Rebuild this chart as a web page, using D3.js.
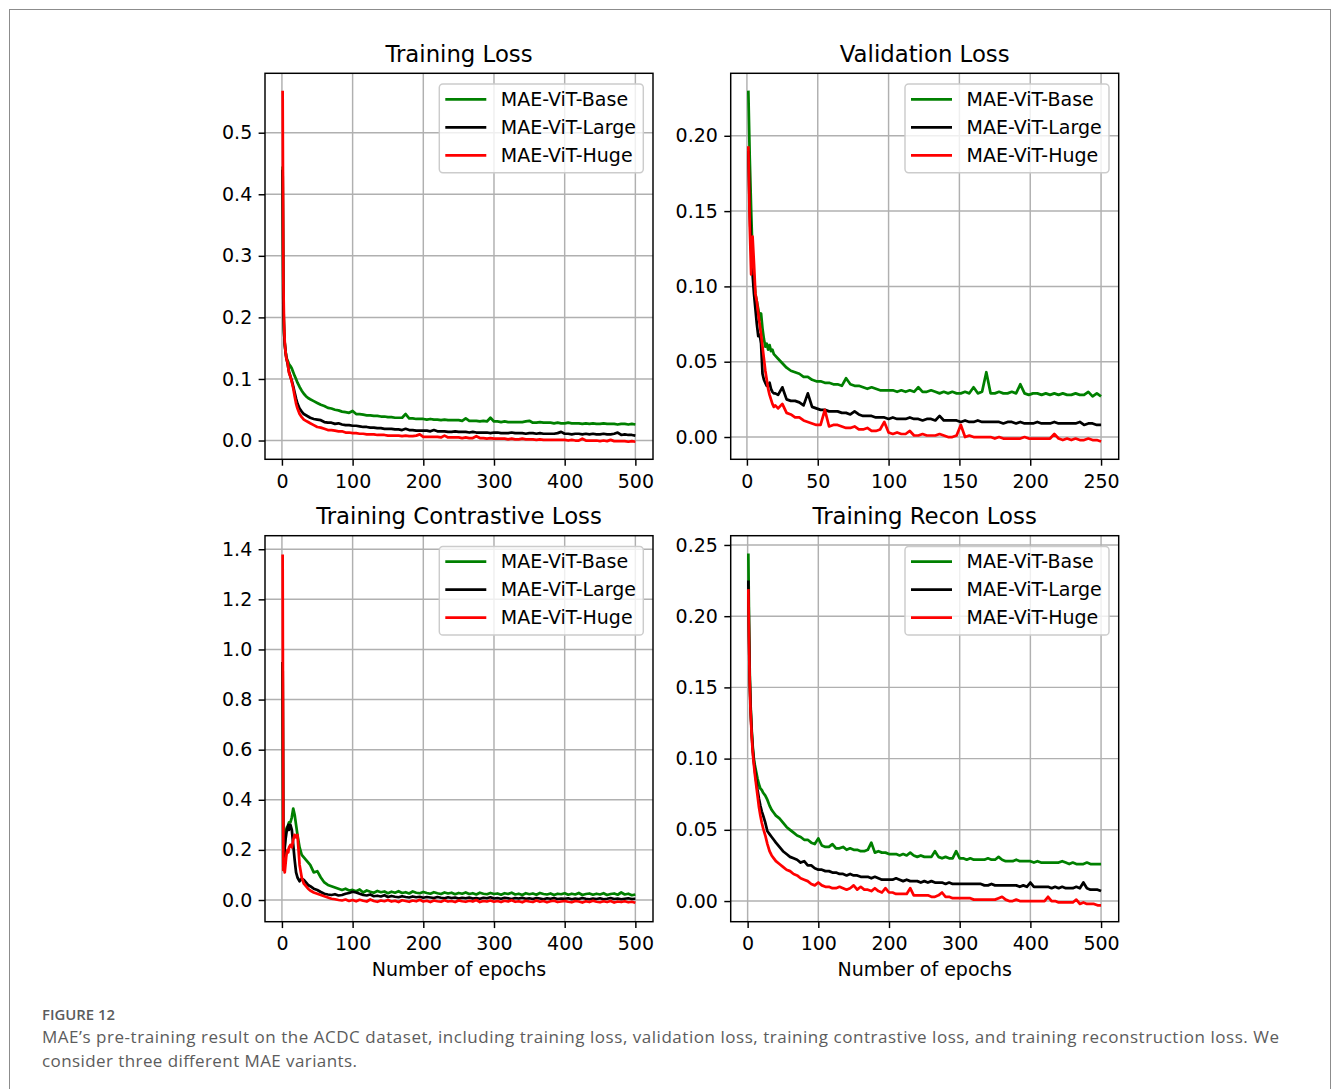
<!DOCTYPE html>
<html>
<head>
<meta charset="utf-8">
<title>MAE pre-training on ACDC</title>
<script src="https://cdn.jsdelivr.net/npm/d3@7"></script>
<style>
  body { margin: 0; background: #fff; }
  svg text { font-family: 'DejaVu Sans', sans-serif; }
  .caption { font-family: 'Open Sans', sans-serif; fill: #5c5c5c; }
</style>
</head>
<body>
<svg id="fig" width="1335" height="1089"></svg>
<script>

/*--- Data ---*/

// epochs: dense at the start, every 5 epochs after 45
var epochsTrain = [1,2,3,4,5,6,7,8,9,10,12,14,16,18,20,22,25,28,31,34,37,40].concat(d3.range(45, 501, 5));
// validation: every epoch up to 20, then every 3
var epochsVal = d3.range(1, 21).concat(d3.range(22, 251, 3));

var seriesNames = ["MAE-ViT-Base", "MAE-ViT-Large", "MAE-ViT-Huge"];

var trainBase = [.445,.230,.178,.158,.146,.138,.133,.130,.127,.124,.121,.117,.111,.105,.100,.094,.087,.081,.076,.072,.069,.067,
  .064,.061,.058,.056,.053,.052,.050,.049,.047,.046,.045,.048,
  .043,.043,.042,.041,.041,.040,.040,.039,.039,.038,.038,.037,.037,.037,.043,.036,.036,.035,.035,.035,
  .034,.035,.034,.034,.033,.034,.033,.033,.033,.033,.032,.036,.032,.032,.032,.031,.032,.031,.037,.031,
  .031,.030,.031,.030,.030,.030,.030,.030,.031,.032,.029,.029,.030,.029,.029,.029,.028,.029,.028,.028,
  .029,.028,.028,.028,.027,.028,.027,.028,.027,.027,.028,.027,.027,.027,.026,.027,.027,.026,.027,.026];
var trainLarge = [.440,.220,.175,.156,.145,.136,.130,.125,.118,.112,.104,.097,.088,.078,.068,.060,.052,.047,.043,.041,.039,.037,
  .035,.034,.033,.030,.029,.029,.027,.028,.026,.025,.025,.024,
  .024,.023,.022,.022,.021,.021,.020,.020,.019,.019,.019,.018,.018,.017,.019,.017,.017,.016,.016,.016,
  .016,.015,.017,.015,.015,.015,.014,.014,.015,.014,.014,.014,.013,.014,.013,.013,.013,.013,.012,.013,
  .013,.012,.012,.012,.013,.012,.012,.012,.011,.012,.012,.011,.012,.011,.011,.011,.011,.012,.014,.011,
  .011,.010,.011,.011,.010,.011,.010,.011,.010,.010,.011,.010,.010,.011,.013,.009,.010,.009,.009,.008];
var trainHuge = [.568,.260,.190,.160,.145,.135,.130,.127,.118,.110,.104,.095,.085,.072,.060,.052,.043,.038,.034,.032,.030,.028,
  .025,.022,.021,.019,.017,.017,.016,.015,.015,.013,.013,.012,
  .012,.011,.011,.010,.010,.010,.009,.009,.009,.008,.008,.008,.008,.007,.008,.007,.007,.008,.010,.006,
  .006,.006,.006,.006,.005,.008,.005,.005,.005,.005,.004,.005,.004,.004,.007,.004,.004,.003,.004,.003,
  .003,.003,.003,.002,.003,.002,.002,.003,.002,.002,.002,.001,.002,.001,.001,.001,.001,.001,.001,.001,
  .000,.001,.000,.000,.003,.000,.000,.000,.000,-.001,.000,-.001,.001,-.001,-.001,-.001,-.001,-.002,-.001,-.002];

var valBase = [.230,.185,.150,.120,.105,.095,.090,.085,.078,.082,.072,.065,.060,.062,.058,.061,.057,.058,.055,.054,
  .052,.049,.046,.044,.043,.042,.040,.040,.038,.037,
  .037,.036,.036,.035,.035,.034,.039,.035,.034,.034,
  .033,.032,.033,.032,.031,.031,.031,.031,.030,.031,
  .030,.031,.030,.033,.030,.030,.031,.030,.029,.030,
  .029,.030,.029,.029,.030,.029,.033,.029,.030,.043,
  .029,.029,.030,.029,.029,.030,.029,.035,.029,.028,
  .029,.029,.028,.029,.028,.029,.028,.029,.028,.028,
  .029,.028,.028,.030,.027,.029,.027];
var valLarge = [.190,.150,.125,.108,.095,.085,.075,.067,.068,.062,.042,.038,.036,.034,.034,.036,.032,.030,.029,.029,
  .028,.033,.025,.024,.024,.023,.021,.029,.020,.019,
  .018,.018,.017,.017,.017,.016,.016,.015,.017,.015,
  .014,.014,.014,.013,.013,.013,.012,.013,.012,.012,
  .012,.013,.012,.012,.011,.012,.012,.011,.014,.011,
  .011,.011,.011,.010,.011,.010,.010,.011,.010,.010,
  .010,.010,.010,.009,.010,.010,.009,.010,.009,.009,
  .009,.010,.009,.009,.009,.010,.009,.009,.009,.009,
  .009,.010,.008,.009,.009,.008,.008];
var valHuge = [.193,.140,.108,.133,.115,.095,.090,.082,.075,.068,.060,.052,.044,.038,.032,.028,.025,.022,.020,.021,
  .019,.022,.016,.015,.013,.013,.011,.010,.009,.008,
  .008,.018,.007,.008,.008,.007,.006,.006,.007,.005,
  .005,.006,.004,.004,.005,.010,.003,.002,.003,.002,
  .002,.004,.001,.001,.002,.001,.001,.001,.002,.001,
  .000,.000,.001,.008,.000,.001,.000,.000,.000,.000,
  .000,-.001,.000,-.001,-.001,-.001,-.001,-.001,.000,-.001,
  -.001,-.001,-.001,-.001,-.001,.002,-.001,-.002,-.001,-.002,
  -.001,-.002,-.002,-.001,-.002,-.002,-.003];

var conBase = [.950,.120,.160,.220,.260,.280,.290,.290,.300,.310,.310,.330,.365,.340,.300,.260,.210,.180,.170,.160,.150,.140,
  .110,.115,.090,.070,.060,.055,.050,.045,.040,.045,.038,.040,
  .035,.042,.030,.038,.033,.029,.036,.031,.034,.027,.033,.029,.035,.028,.031,.026,.034,.029,.027,.032,
  .028,.025,.031,.027,.024,.030,.026,.029,.023,.028,.025,.030,.024,.027,.022,.029,.025,.023,.028,.024,
  .026,.021,.027,.024,.029,.022,.025,.020,.027,.023,.026,.021,.028,.024,.022,.026,.020,.025,.023,.027,
  .021,.025,.022,.028,.020,.024,.026,.021,.025,.022,.027,.020,.024,.026,.021,.030,.022,.025,.019,.022];
var conLarge = [.950,.130,.170,.210,.240,.260,.280,.290,.300,.280,.300,.280,.220,.160,.110,.090,.075,.085,.080,.070,.060,.055,
  .045,.040,.032,.025,.022,.020,.023,.018,.020,.025,.028,.033,
  .030,.025,.020,.018,.022,.015,.017,.014,.019,.012,.016,.013,.011,.015,.012,.010,.014,.011,.013,.009,
  .012,.010,.008,.012,.009,.007,.011,.008,.010,.006,.009,.007,.010,.006,.008,.005,.009,.007,.011,.006,
  .008,.005,.009,.007,.004,.008,.006,.009,.005,.007,.004,.008,.006,.003,.007,.005,.008,.004,.006,.005,
  .007,.003,.006,.004,.008,.005,.003,.006,.004,.007,.003,.005,.008,.004,.006,.003,.005,.007,.004,.005];
var conHuge = [1.379,.120,.130,.110,.140,.170,.190,.200,.190,.210,.220,.210,.240,.260,.250,.260,.140,.090,.065,.055,.045,.038,
  .030,.025,.020,.015,.010,.005,.003,.000,-.002,.002,-.004,.000,
  -.005,.001,-.003,-.006,.002,-.004,-.007,-.002,-.005,.000,-.006,-.003,-.008,-.001,-.004,-.007,-.002,-.005,.001,-.006,
  -.003,-.008,-.002,-.005,-.007,-.001,-.006,-.004,-.008,-.002,-.005,-.007,-.003,-.006,.000,-.008,-.004,-.006,-.002,-.007,
  -.004,-.008,-.003,-.006,-.001,-.007,-.005,-.009,-.003,-.006,-.008,-.002,-.007,-.004,-.009,-.005,-.003,-.008,-.006,-.004,
  -.007,-.009,-.004,-.006,-.010,-.005,-.008,-.003,-.007,-.009,-.005,-.008,-.004,-.010,-.006,-.008,-.005,-.009,-.007,-.011];

var reconBase = [.244,.195,.160,.140,.128,.118,.110,.104,.099,.096,.091,.086,.082,.079,.078,.076,.074,.071,.067,.064,.062,.060,
  .058,.055,.052,.050,.048,.046,.045,.043,.043,.041,.040,.044,
  .039,.038,.038,.040,.037,.037,.038,.036,.037,.036,.036,.035,.035,.036,.041,.034,.035,.034,.034,.033,
  .033,.033,.032,.033,.032,.034,.032,.031,.032,.031,.031,.031,.035,.031,.030,.031,.030,.030,.035,.030,
  .030,.029,.030,.029,.029,.029,.029,.030,.029,.029,.031,.029,.028,.028,.028,.029,.028,.028,.028,.028,
  .027,.028,.027,.027,.027,.027,.027,.027,.028,.027,.026,.027,.026,.026,.026,.027,.026,.026,.026,.026];
var reconLarge = [.225,.185,.155,.138,.126,.116,.108,.102,.097,.093,.085,.078,.072,.067,.063,.060,.055,.049,.047,.045,.043,.041,
  .038,.035,.033,.031,.030,.029,.027,.028,.025,.025,.023,.022,
  .022,.021,.021,.020,.020,.019,.019,.018,.019,.018,.018,.017,.017,.017,.016,.017,.016,.015,.015,.015,
  .015,.016,.015,.014,.015,.014,.014,.014,.013,.014,.013,.014,.013,.013,.013,.012,.013,.012,.012,.012,
  .012,.012,.012,.012,.012,.012,.011,.011,.012,.011,.011,.011,.011,.011,.011,.011,.010,.011,.010,.013,
  .010,.010,.010,.010,.010,.009,.010,.009,.010,.009,.009,.009,.010,.009,.013,.009,.008,.008,.008,.007];
var reconHuge = [.219,.180,.152,.135,.124,.114,.106,.100,.095,.090,.082,.074,.066,.060,.055,.051,.046,.040,.035,.032,.030,.028,
  .026,.024,.022,.021,.019,.018,.016,.015,.014,.012,.011,.013,
  .011,.010,.010,.009,.009,.010,.009,.008,.009,.011,.008,.010,.008,.008,.007,.009,.007,.006,.009,.006,
  .006,.005,.005,.005,.005,.009,.004,.004,.004,.004,.004,.003,.003,.004,.006,.003,.003,.002,.002,.002,
  .002,.002,.002,.001,.001,.001,.001,.001,.001,.001,.002,.003,.001,.000,.000,.001,.000,.000,.000,.000,
  .000,.000,.000,.000,.003,.000,.000,-.001,-.001,-.001,-.001,-.001,.001,-.002,-.001,-.002,-.002,-.002,-.003,-.003];

var ticks500 = [0, 100, 200, 300, 400, 500],
    ticks250 = [0, 50, 100, 150, 200, 250],
    ticksTrain = [0, 0.1, 0.2, 0.3, 0.4, 0.5],
    ticksVal = [0, 0.05, 0.10, 0.15, 0.20],
    ticksCon = [0, 0.2, 0.4, 0.6, 0.8, 1.0, 1.2, 1.4],
    ticksRecon = [0, 0.05, 0.10, 0.15, 0.20, 0.25];

/*--- Layout ---*/

var W = 388, H = 386,
  pt = 1.825,                 // px per point
  fs = 19,                    // tick / legend font
  colors = ["#008000", "#000000", "#ff0000"];

var panels = [
  { title: "Training Loss", left: 265, top: 73.3, epochs: epochsTrain, series: [trainBase, trainLarge, trainHuge],
    xDomain: [-23.95, 524.95], xTicks: ticks500, yDomain: [-0.0305, 0.5965], yTicks: ticksTrain, fmt: ".1f", xlabel: false },
  { title: "Validation Loss", left: 730.7, top: 73.3, epochs: epochsVal, series: [valBase, valLarge, valHuge],
    xDomain: [-11.45, 262.45], xTicks: ticks250, yDomain: [-0.0148, 0.2415], yTicks: ticksVal, fmt: ".2f", xlabel: false },
  { title: "Training Contrastive Loss", left: 265, top: 535.7, epochs: epochsTrain, series: [conBase, conLarge, conHuge],
    xDomain: [-23.95, 524.95], xTicks: ticks500, yDomain: [-0.0866, 1.454], yTicks: ticksCon, fmt: ".1f", xlabel: true },
  { title: "Training Recon Loss", left: 730.7, top: 535.7, epochs: epochsTrain, series: [reconBase, reconLarge, reconHuge],
    xDomain: [-23.95, 524.95], xTicks: ticks500, yDomain: [-0.0145, 0.2565], yTicks: ticksRecon, fmt: ".2f", xlabel: true }
];

var svg = d3.select("#fig");

// outer figure frame
svg.append("rect")
  .attr("x", 9.5).attr("y", 9.5)
  .attr("width", 1321).attr("height", 1100)
  .attr("fill", "none").attr("stroke", "#8c8c8c").attr("stroke-width", 1);

/*--- Draw one subplot ---*/
function drawPanel(p, k) {
  var g = svg.append("g").attr("transform", "translate(" + p.left + "," + p.top + ")"),
    x = d3.scaleLinear().domain(p.xDomain).range([0, W]),
    y = d3.scaleLinear().domain(p.yDomain).range([H, 0]);

  // grid
  g.append("g").selectAll("line").data(p.xTicks).enter().append("line")
    .attr("x1", function (d) { return x(d); }).attr("x2", function (d) { return x(d); })
    .attr("y1", 0).attr("y2", H)
    .attr("stroke", "#b0b0b0").attr("stroke-width", 0.8 * pt);
  g.append("g").selectAll("line").data(p.yTicks).enter().append("line")
    .attr("y1", function (d) { return y(d); }).attr("y2", function (d) { return y(d); })
    .attr("x1", 0).attr("x2", W)
    .attr("stroke", "#b0b0b0").attr("stroke-width", 0.8 * pt);

  // curves
  g.append("clipPath").attr("id", "clip" + k)
    .append("rect").attr("width", W).attr("height", H);

  var line = d3.line()
    .defined(function (d, i) { return i < p.epochs.length; })
    .x(function (d, i) { return x(p.epochs[i]); })
    .y(function (d) { return y(d); });

  g.append("g").attr("clip-path", "url(#clip" + k + ")")
    .selectAll("path").data(p.series).enter().append("path")
    .attr("d", line)
    .attr("fill", "none")
    .attr("stroke", function (d, i) { return colors[i]; })
    .attr("stroke-width", 1.5 * pt)
    .attr("stroke-linejoin", "round");

  // axes
  var xAxis = d3.axisBottom(x).tickValues(p.xTicks).tickFormat(d3.format("d"))
      .tickSize(3.5 * pt).tickPadding(3.5 * pt + 2),
    yAxis = d3.axisLeft(y).tickValues(p.yTicks).tickFormat(d3.format(p.fmt))
      .tickSize(3.5 * pt).tickPadding(3.5 * pt);

  var gx = g.append("g").attr("transform", "translate(0," + H + ")").call(xAxis),
    gy = g.append("g").call(yAxis);

  [gx, gy].forEach(function (a) {
    a.attr("font-family", "'DejaVu Sans', sans-serif").attr("font-size", fs);
    a.select(".domain").remove();
    a.selectAll(".tick line").attr("stroke", "#000").attr("stroke-width", 0.8 * pt);
    a.selectAll(".tick text").attr("fill", "#000");
  });

  // spines
  g.append("rect").attr("width", W).attr("height", H)
    .attr("fill", "none").attr("stroke", "#000").attr("stroke-width", 0.8 * pt);

  // title
  g.append("text").attr("x", W / 2).attr("y", -11.7)
    .attr("text-anchor", "middle").attr("font-size", 22.8).attr("fill", "#000")
    .text(p.title);

  if (p.xlabel) {
    g.append("text").attr("x", W / 2).attr("y", 976 - p.top)
      .attr("text-anchor", "middle").attr("font-size", fs).attr("fill", "#000")
      .text("Number of epochs");
  }

  // legend
  var lg = g.append("g").attr("transform", "translate(" + (W - 9.7 - 204) + ",10.7)");
  lg.append("rect").attr("width", 204).attr("height", 88.7).attr("rx", 3.6)
    .attr("fill", "#fff").attr("fill-opacity", 0.8)
    .attr("stroke", "#cccccc").attr("stroke-width", 0.8 * pt);

  var rows = lg.selectAll("g.row").data(seriesNames).enter().append("g")
    .attr("class", "row")
    .attr("transform", function (d, i) { return "translate(0," + (15.3 + 28 * i) + ")"; });
  rows.append("line").attr("x1", 6).attr("x2", 47)
    .attr("stroke", function (d, i) { return colors[i]; }).attr("stroke-width", 1.5 * pt);
  rows.append("text").attr("x", 61.5).attr("dy", "0.35em")
    .attr("font-size", fs).attr("fill", "#000")
    .text(function (d) { return d; });
}

panels.forEach(drawPanel);

/*--- Caption ---*/
svg.append("text").attr("class", "caption")
  .attr("x", 42).attr("y", 1020)
  .attr("font-size", 13.5).attr("font-weight", 600)
  .attr("textLength", 73).attr("lengthAdjust", "spacingAndGlyphs")
  .text("FIGURE 12");

svg.append("text").attr("class", "caption")
  .attr("x", 42).attr("y", 1043)
  .attr("font-size", 17)
  .attr("textLength", 1237).attr("lengthAdjust", "spacing")
  .text("MAE\u2019s pre-training result on the ACDC dataset, including training loss, validation loss, training contrastive loss, and training reconstruction loss. We");

svg.append("text").attr("class", "caption")
  .attr("x", 42).attr("y", 1067)
  .attr("font-size", 17)
  .attr("textLength", 315).attr("lengthAdjust", "spacing")
  .text("consider three different MAE variants.");

</script>
</body>
</html>
